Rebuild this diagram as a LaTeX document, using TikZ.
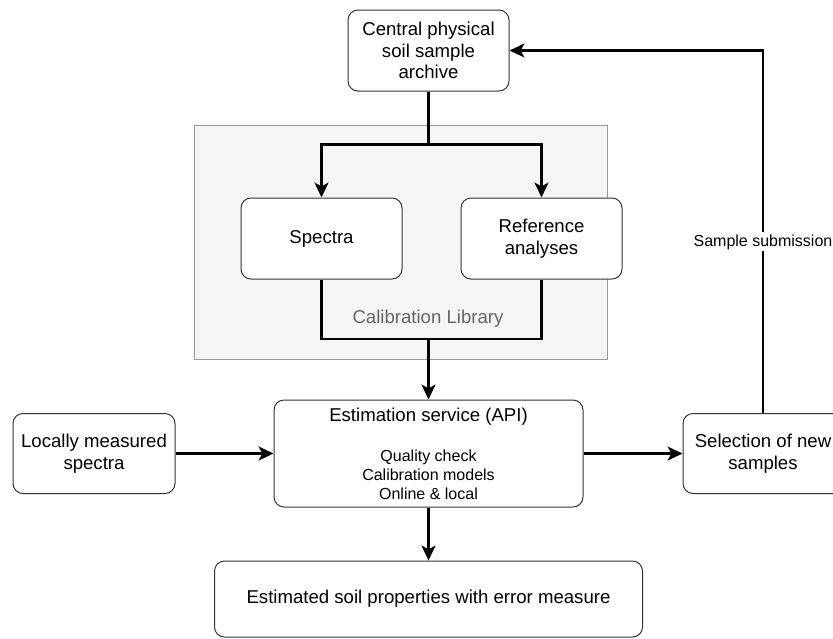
\documentclass[tikz,border=0pt]{standalone}
\usepackage{fontspec}
\setmainfont{Liberation Sans}
\usetikzlibrary{arrows.meta}

\begin{document}
\begin{tikzpicture}[
        x=0.5pt, y=-0.5pt,
        box/.style={draw=black!80, line width=0.5pt, rounded corners=5pt, fill=white, align=center, inner sep=0pt, font=\fontsize{9.3}{10.8}\selectfont},
        small/.style={font=\fontsize{8}{9.5}\selectfont},
        wire/.style={draw, line width=1.1pt},
        flow/.style={wire, -{Stealth[length=7.5pt, width=7pt, inset=2pt]}},
        library/.style={draw=black!40, fill=black!4, line width=0.5pt},
    ]
    \useasboundingbox (0,0) rectangle (833,638);

    % calibration library frame
    \draw[library] (194,125) rectangle (607,359);
    \node[text=black!60, font=\fontsize{9.3}{10.8}\selectfont] (liblabel) at (428,319) {Calibration Library};

    \node[box, minimum width=80.5pt, minimum height=40.5pt] (archive) at (428.5,50.5) {Central physical\\soil sample\\archive};
    \node[box, minimum width=80.5pt, minimum height=40.5pt] (spectra) at (321.5,238.5) {Spectra};
    \node[box, minimum width=80.5pt, minimum height=40.5pt] (refan) at (541.5,238.5) {Reference\\analyses};
    \node[box, small, minimum width=154.5pt, minimum height=53.5pt] (estim) at (428.5,453.5)
        {{\fontsize{9.3}{10.8}\selectfont Estimation service (API)}\\[10.5pt]Quality check\\Calibration models\\Online \& local};
    \node[box, minimum width=81pt, minimum height=40pt] (local) at (94,453.5) {Locally measured\\spectra};
    \node[box, minimum width=80pt, minimum height=40pt] (select) at (763,453.5) {Selection of new\\samples};
    \node[box, minimum width=214pt, minimum height=38pt] (result) at (428.5,599) {Estimated soil properties with error measure};

    % archive to library
    \draw[wire] (archive.south) -- ++(0,53) coordinate (split);
    \draw[flow] (split) -| (spectra.north);
    \draw[flow] (split) -| (refan.north);

    % library to service
    \coordinate (join) at (428.5,339);
    \draw[wire] (spectra.south) |- (join) -| (refan.south);
    \draw[flow] (join) -- (estim.north);

    \draw[flow] (local) -- (estim);
    \draw[flow] (estim) -- (select);
    \draw[flow] (estim) -- (result);
    \draw[flow] (select.north) |- (archive.east)
        node[pos=0.236, fill=white, inner sep=1pt, font=\fontsize{8}{9}\selectfont] (submit) {Sample submission};
\end{tikzpicture}
\end{document}
